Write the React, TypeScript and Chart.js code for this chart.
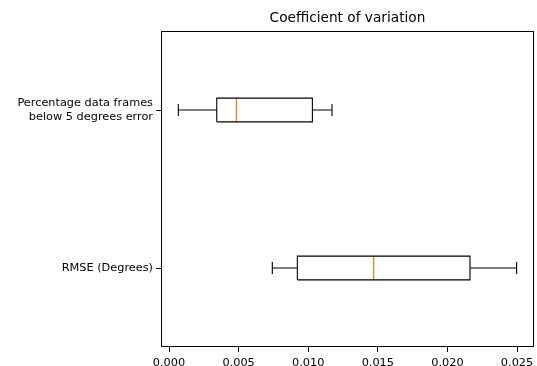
import React, { useEffect, useRef } from "react";
import { Chart, registerables } from "chart.js";

Chart.register(...registerables);

// Data
const titleText = "Coefficient of variation";
const categories: (string | string[])[] = [
  "RMSE (Degrees)",
  ["Percentage data frames", "below 5 degrees error"],
];
const positions = [1, 2];
const whiskerLow = [0.00742, 0.00067];
const q1 = [0.00922, 0.00343];
const median = [0.0147, 0.00484];
const q3 = [0.02162, 0.0103];
const whiskerHigh = [0.02497, 0.01171];
const xTicks = [0, 0.005, 0.01, 0.015, 0.02, 0.025];
const boxHalf = 0.075;
const capHalf = 0.0375;

type P = { x: number; y: number };
const GAP: P = { x: NaN, y: NaN };

function buildBlack(): P[] {
  const pts: P[] = [];
  positions.forEach((p, i) => {
    pts.push({ x: whiskerLow[i], y: p - capHalf }, { x: whiskerLow[i], y: p + capHalf }, GAP);
    pts.push({ x: whiskerLow[i], y: p }, { x: q1[i], y: p }, GAP);
    pts.push({ x: q3[i], y: p }, { x: whiskerHigh[i], y: p }, GAP);
    pts.push({ x: whiskerHigh[i], y: p - capHalf }, { x: whiskerHigh[i], y: p + capHalf }, GAP);
    pts.push(
      { x: q1[i], y: p - boxHalf },
      { x: q3[i], y: p - boxHalf },
      { x: q3[i], y: p + boxHalf },
      { x: q1[i], y: p + boxHalf },
      { x: q1[i], y: p - boxHalf },
      GAP
    );
  });
  return pts;
}

function buildMedian(): P[] {
  const pts: P[] = [];
  positions.forEach((p, i) => {
    pts.push({ x: median[i], y: p - boxHalf }, { x: median[i], y: p + boxHalf }, GAP);
  });
  return pts;
}

const FONT = "'DejaVu Sans', sans-serif";

const frame = {
  id: "frame",
  afterDatasetsDraw(chart: any) {
    const { ctx, chartArea } = chart;
    ctx.save();
    ctx.strokeStyle = "#000";
    ctx.lineWidth = 1;
    ctx.strokeRect(
      Math.round(chartArea.left) + 0.5,
      Math.round(chartArea.top) + 0.5,
      Math.round(chartArea.right - chartArea.left) - 1,
      Math.round(chartArea.bottom - chartArea.top) - 1
    );
    // axes title centred over the plot area (like matplotlib)
    ctx.fillStyle = "#000";
    ctx.font = `13.7px ${FONT}`;
    ctx.textAlign = "center";
    ctx.textBaseline = "alphabetic";
    ctx.fillText(titleText, (chartArea.left + chartArea.right) / 2, chartArea.top - 9);
    ctx.restore();
  },
};

export default function App() {
  const ref = useRef<HTMLCanvasElement>(null);
  useEffect(() => {
    document.body.style.margin = "0";
    const chart = new Chart(ref.current!, {
      type: "scatter",
      data: {
        datasets: [
          {
            data: buildBlack(),
            showLine: true,
            spanGaps: false,
            borderColor: "#000",
            borderWidth: 1.1,
            pointRadius: 0,
            pointHoverRadius: 0,
          } as any,
          {
            data: buildMedian(),
            showLine: true,
            spanGaps: false,
            borderColor: "#ff7f0e",
            borderWidth: 1.3,
            pointRadius: 0,
            pointHoverRadius: 0,
          } as any,
        ],
      },
      options: {
        animation: false,
        responsive: false,
        events: [],
        layout: { padding: { left: 0, right: 3, top: 31, bottom: 0 } },
        plugins: {
          legend: { display: false },
          tooltip: { enabled: false },
          title: { display: false },
        },
        scales: {
          x: {
            type: "linear",
            min: -0.000575,
            max: 0.02622,
            afterBuildTicks: (s: any) => {
              s.ticks = xTicks.map((v) => ({ value: v }));
            },
            afterFit: (s: any) => {
              s.height = 19;
              s.paddingLeft = 0;
              s.paddingRight = 0;
            },
            ticks: {
              color: "#000",
              font: { family: FONT, size: 11.3 },
              padding: 4,
              maxRotation: 0,
              autoSkip: false,
              callback: (v: any) => Number(v).toFixed(3),
            },
            grid: {
              display: true,
              drawOnChartArea: false,
              drawTicks: true,
              tickLength: 5,
              tickColor: "#000",
              color: "#000",
            },
            border: { display: false },
          },
          y: {
            type: "linear",
            min: 0.5,
            max: 2.5,
            afterBuildTicks: (s: any) => {
              s.ticks = positions.map((v) => ({ value: v }));
            },
            afterFit: (s: any) => {
              s.width = 161;
              s.paddingTop = 0;
              s.paddingBottom = 0;
            },
            ticks: {
              color: "#000",
              font: { family: FONT, size: 11.3 },
              padding: 3,
              autoSkip: false,
              callback: (v: any) => {
                const i = positions.indexOf(Number(v));
                return i >= 0 ? (categories[i] as any) : "";
              },
            },
            grid: {
              display: true,
              drawOnChartArea: false,
              drawTicks: true,
              tickLength: 5,
              tickColor: "#000",
              color: "#000",
            },
            border: { display: false },
          },
        },
      },
      plugins: [frame],
    });
    return () => chart.destroy();
  }, []);
  return (
    <div style={{ width: 537, height: 366, background: "#fff" }}>
      <canvas ref={ref} width={537} height={366} style={{ display: "block" }} />
    </div>
  );
}
